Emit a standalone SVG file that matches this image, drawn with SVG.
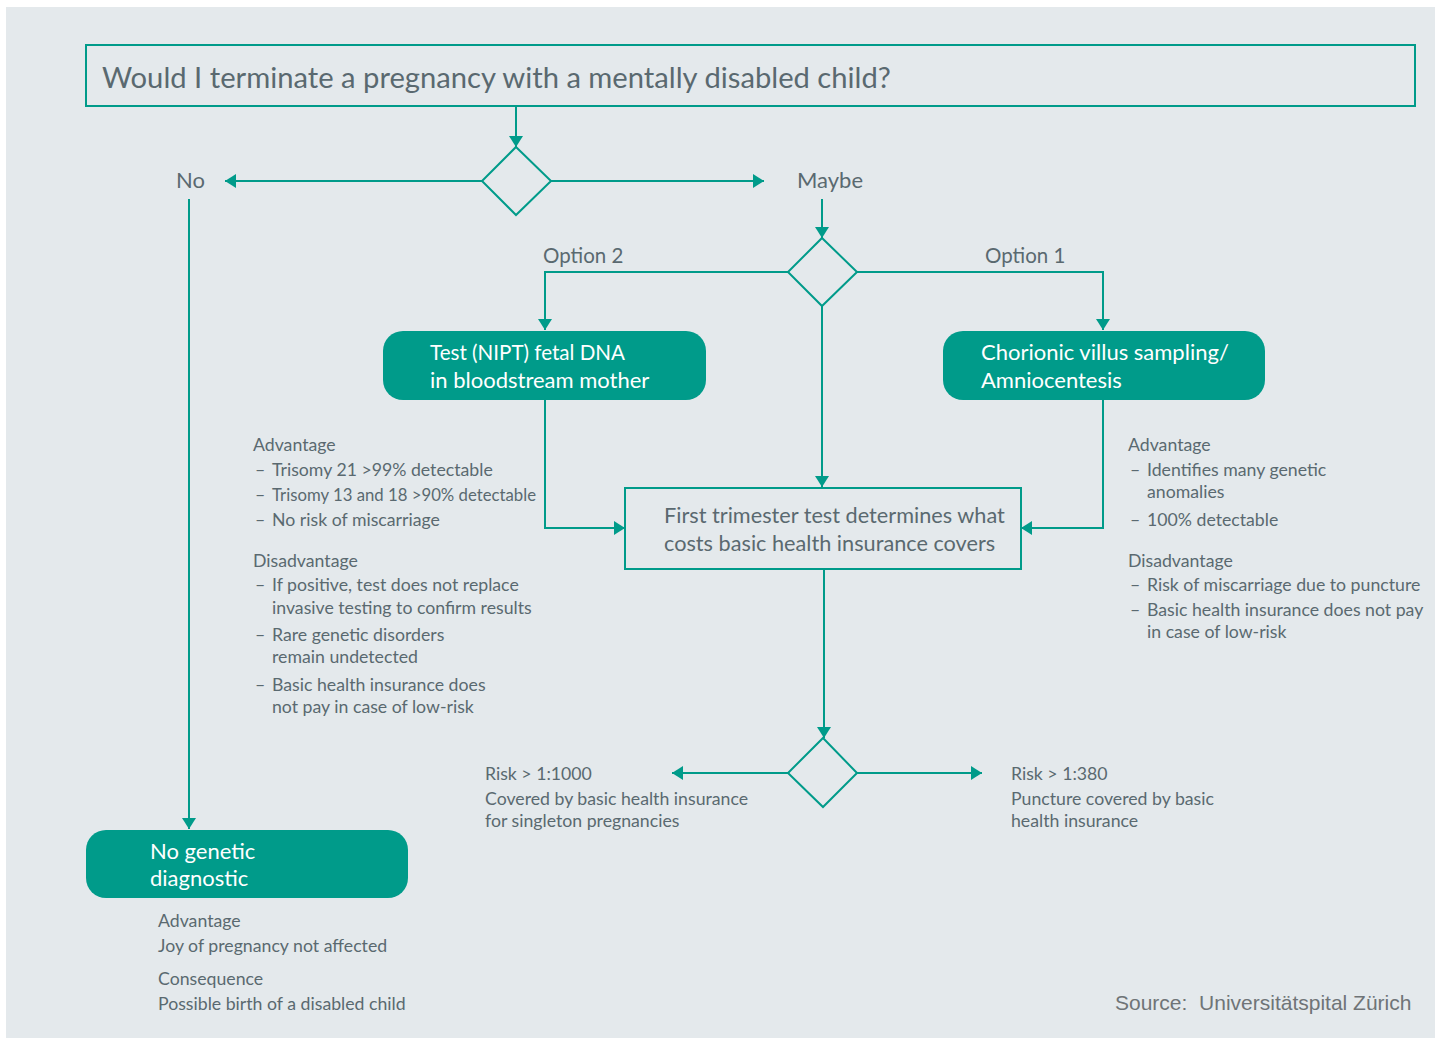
<svg xmlns="http://www.w3.org/2000/svg" width="1442" height="1040" viewBox="0 0 1442 1040">
<defs>
<style>
.bg{fill:#e4e9ec}
.ln{fill:none;stroke:#009b8a;stroke-width:2}
.box{fill:none;stroke:#009b8a;stroke-width:2}
.dia{fill:none;stroke:#009b8a;stroke-width:2}
.fill{fill:#009b8a}
.t{font-family:Lato,"Open Sans","Liberation Sans",sans-serif;fill:#5a6970}
.w{font-family:Lato,"Open Sans","Liberation Sans",sans-serif;fill:#ffffff;font-size:22px}
.s{font-size:17.7px}
.m{font-size:22px}
.o{font-size:20.5px}
.src{font-family:"Liberation Sans",Arial,sans-serif;fill:#6f7477;font-size:21px;white-space:pre}
</style>
<marker id="ah" markerUnits="userSpaceOnUse" markerWidth="11" markerHeight="14" refX="11" refY="7" orient="auto">
<path d="M0,0 L11,7 L0,14 z" fill="#009b8a"/>
</marker>
</defs>
<rect x="0" y="0" width="1442" height="1040" fill="#ffffff"/>
<rect class="bg" x="6" y="7" width="1429" height="1031"/>

<g id="connectors">
<path class="ln" d="M516,106 V147" marker-end="url(#ah)"/>
<path class="ln" d="M482,181 H225" marker-end="url(#ah)"/>
<path class="ln" d="M551,181 H764" marker-end="url(#ah)"/>
<path class="ln" d="M189,199 V829" marker-end="url(#ah)"/>
<path class="ln" d="M822,199 V238" marker-end="url(#ah)"/>
<path class="ln" d="M788,272 H545 V330" marker-end="url(#ah)"/>
<path class="ln" d="M857,272 H1103 V330" marker-end="url(#ah)"/>
<path class="ln" d="M822,306 V487" marker-end="url(#ah)"/>
<path class="ln" d="M545,400 V528 H625" marker-end="url(#ah)"/>
<path class="ln" d="M1103,400 V528 H1021" marker-end="url(#ah)"/>
<path class="ln" d="M824,569 V738" marker-end="url(#ah)"/>
<path class="ln" d="M788,773 H672" marker-end="url(#ah)"/>
<path class="ln" d="M857,773 H982" marker-end="url(#ah)"/>
</g>

<g id="title">
<rect class="box" x="86" y="45" width="1329" height="61"/>
<text class="t" x="102" y="88" font-size="29.2">Would I terminate a pregnancy with a mentally disabled child?</text>
</g>

<g id="decision1">
<path class="dia" d="M516,147 L551,181 L516,215 L482,181 z"/>
</g>
<g id="label-no"><text class="t m" x="176" y="188">No</text></g>
<g id="label-maybe"><text class="t m" x="797" y="188">Maybe</text></g>

<g id="decision2">
<path class="dia" d="M822,238 L857,272 L822,306 L788,272 z"/>
</g>
<g id="label-option2"><text class="t o" x="543" y="263">Option 2</text></g>
<g id="label-option1"><text class="t o" x="985" y="263">Option 1</text></g>

<g id="nipt">
<rect class="fill" x="383" y="331" width="323" height="69" rx="20"/>
<text class="w" x="430" y="360" textLength="195" lengthAdjust="spacingAndGlyphs">Test (NIPT) fetal DNA</text>
<text class="w" x="430" y="388">in bloodstream mother</text>
</g>

<g id="cvs">
<rect class="fill" x="943" y="331" width="322" height="69" rx="20"/>
<text class="w" x="981" y="360">Chorionic villus sampling/</text>
<text class="w" x="981" y="388">Amniocentesis</text>
</g>

<g id="nipt-notes" class="t s">
<text x="253" y="451">Advantage</text>
<text x="255" y="476">–</text><text x="272" y="476">Trisomy 21 &gt;99% detectable</text>
<text x="255" y="501">–</text><text x="272" y="501" textLength="264" lengthAdjust="spacingAndGlyphs">Trisomy 13 and 18 &gt;90% detectable</text>
<text x="255" y="526">–</text><text x="272" y="526">No risk of miscarriage</text>
<text x="253" y="567">Disadvantage</text>
<text x="255" y="591">–</text><text x="272" y="591">If positive, test does not replace</text>
<text x="272" y="614">invasive testing to confirm results</text>
<text x="255" y="641">–</text><text x="272" y="641">Rare genetic disorders</text>
<text x="272" y="663">remain undetected</text>
<text x="255" y="691">–</text><text x="272" y="691">Basic health insurance does</text>
<text x="272" y="713">not pay in case of low-risk</text>
</g>

<g id="cvs-notes" class="t s">
<text x="1128" y="451">Advantage</text>
<text x="1130" y="476">–</text><text x="1147" y="476">Identifies many genetic</text>
<text x="1147" y="498">anomalies</text>
<text x="1130" y="526">–</text><text x="1147" y="526">100% detectable</text>
<text x="1128" y="567">Disadvantage</text>
<text x="1130" y="591">–</text><text x="1147" y="591">Risk of miscarriage due to puncture</text>
<text x="1130" y="616">–</text><text x="1147" y="616">Basic health insurance does not pay</text>
<text x="1147" y="638">in case of low-risk</text>
</g>

<g id="first-trimester">
<rect class="box" x="625" y="488" width="396" height="81"/>
<text class="t" x="664" y="523" font-size="21.7">First trimester test determines what</text>
<text class="t" x="664" y="551" font-size="21.7">costs basic health insurance covers</text>
</g>

<g id="decision3">
<path class="dia" d="M823,738 L857,773 L823,807 L788,773 z"/>
</g>

<g id="risk-low" class="t s">
<text x="485" y="780">Risk &gt; 1:1000</text>
<text x="485" y="805">Covered by basic health insurance</text>
<text x="485" y="827">for singleton pregnancies</text>
</g>
<g id="risk-high" class="t s">
<text x="1011" y="780">Risk &gt; 1:380</text>
<text x="1011" y="805">Puncture covered by basic</text>
<text x="1011" y="827">health insurance</text>
</g>

<g id="no-diagnostic">
<rect class="fill" x="86" y="830" width="322" height="68" rx="20"/>
<text class="w" x="150" y="859">No genetic</text>
<text class="w" x="150" y="886">diagnostic</text>
</g>
<g id="no-diagnostic-notes" class="t s">
<text x="158" y="927">Advantage</text>
<text x="158" y="952">Joy of pregnancy not affected</text>
<text x="158" y="985">Consequence</text>
<text x="158" y="1010">Possible birth of a disabled child</text>
</g>

<g id="source"><text class="src" x="1115" y="1010" xml:space="preserve">Source:  Universitätspital Zürich</text></g>
</svg>
